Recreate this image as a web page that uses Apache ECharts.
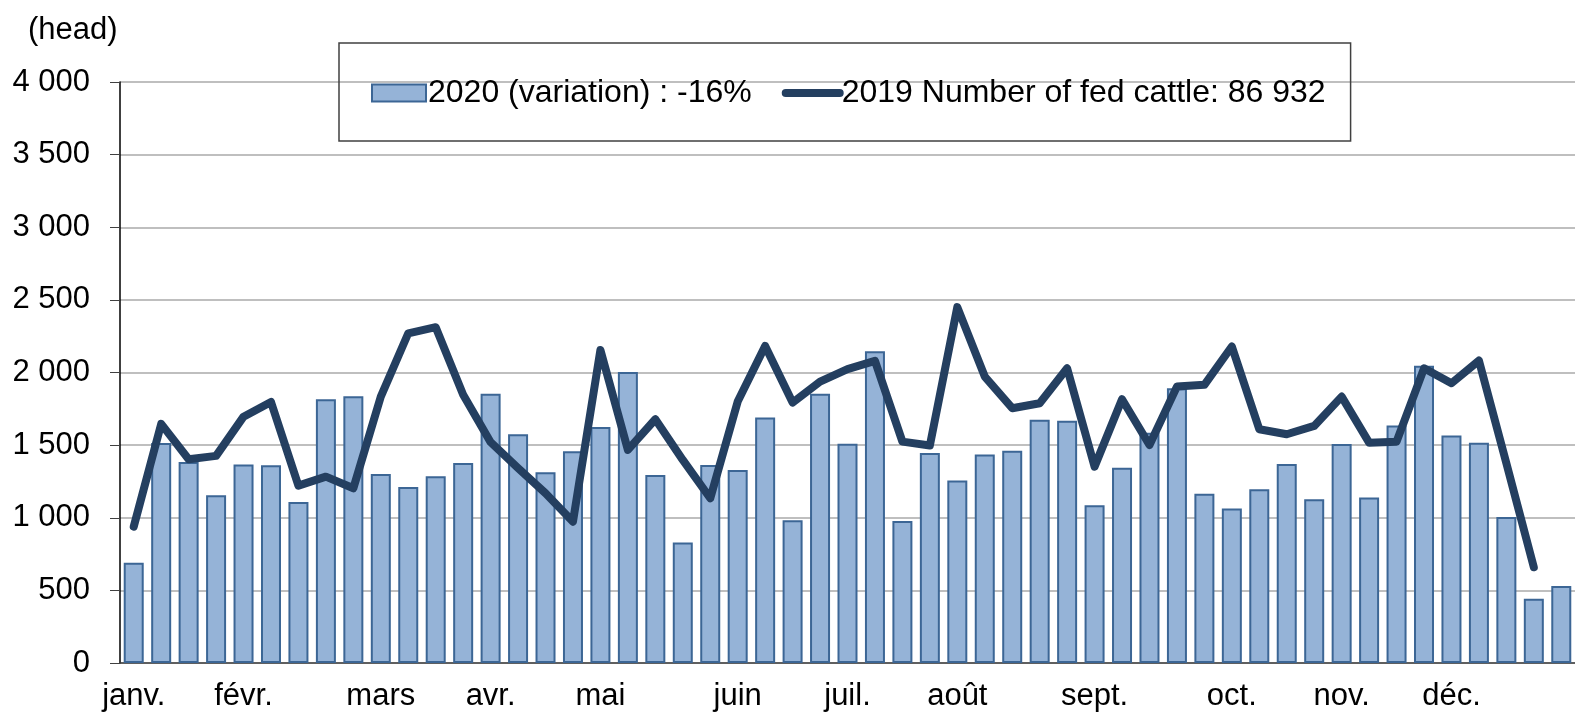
<!DOCTYPE html>
<html>
<head>
<meta charset="utf-8">
<script src="https://cdn.jsdelivr.net/npm/echarts@6/dist/echarts.min.js"></script>
<style>
  html, body { margin: 0; padding: 0; background: #fff; }
  #chart { width: 1575px; height: 717px; }
</style>
</head>
<body>
<div id="chart"></div>
<script>
// month name on the first week of each month, blank for the other weeks
var monthAt = { 0: 'janv.', 4: 'févr.', 9: 'mars', 13: 'avr.', 17: 'mai', 22: 'juin',
                26: 'juil.', 30: 'août', 35: 'sept.', 40: 'oct.', 44: 'nov.', 48: 'déc.' };
var weeks = [];
for (var i = 0; i < 53; i++) weeks.push(monthAt[i] || '');

var cattle2020 = [690, 1515, 1384, 1155, 1366, 1361, 1109, 1816, 1837, 1302,
                  1212, 1286, 1377, 1853, 1575, 1313, 1458, 1625, 2004, 1295,
                  829, 1364, 1329, 1690, 983, 1853, 1510, 2146, 978, 1446,
                  1256, 1435, 1462, 1674, 1667, 1086, 1345, 1585, 1892, 1166,
                  1063, 1196, 1370, 1127, 1508, 1139, 1635, 2046, 1566, 1517,
                  1005, 443, 530];
var cattle2019 = [939, 1646, 1403, 1426, 1696, 1797, 1221, 1283, 1203, 1834,
                  2270, 2312, 1846, 1520, 1341, 1169, 973, 2155, 1467, 1678,
                  1398, 1134, 1800, 2183, 1793, 1937, 2023, 2080, 1524, 1497,
                  2450, 1972, 1754, 1788, 2029, 1352, 1816, 1501, 1903, 1915,
                  2179, 1609, 1575, 1632, 1834, 1517, 1524, 2029, 1926, 2082,
                  1375, 659];

var name2020 = '2020 (variation) : -16%';
var name2019 = '2019 Number of fed cattle: 86 932';
var font = 'Liberation Sans';

var myChart = echarts.init(document.getElementById('chart'));
var option = {
    animation: false,
    textStyle: { fontFamily: font },
    title: {
        text: '(head)',
        left: 23,
        top: 10,
        textStyle: { fontFamily: font, fontSize: 31, fontWeight: 'normal', color: '#000' }
    },
    legend: {
        left: 339,
        top: 43,
        padding: [34, 25, 32, 32],
        borderColor: '#404040',
        borderWidth: 1.5,
        itemWidth: 54,
        itemHeight: 17,
        itemGap: 30,
        textStyle: { fontFamily: font, fontSize: 32, color: '#000', padding: [0, 0, 0, -3] },
        data: [
            { name: name2020, icon: 'rect' },
            {
                name: name2019,
                itemStyle: { opacity: 0 },
                lineStyle: { width: 8, color: '#243F60', cap: 'round' }
            }
        ]
    },
    grid: { left: 120, top: 82, width: 1462, height: 581, containLabel: false },
    xAxis: {
        type: 'category',
        data: weeks,
        boundaryGap: true,
        axisLine: { lineStyle: { color: '#404040', width: 1.5 } },
        axisTick: {
            length: 10,
            interval: function (index) { return index % 4 === 0; },
            lineStyle: { color: '#404040', width: 1.5 }
        },
        axisLabel: { interval: 0, margin: 18, fontSize: 31, color: '#000', fontFamily: font }
    },
    yAxis: {
        type: 'value',
        min: 0,
        max: 4000,
        interval: 500,
        axisLine: { show: true, lineStyle: { color: '#000', width: 1.5 } },
        axisTick: { show: true, length: 10, lineStyle: { color: '#404040' } },
        axisLabel: {
            margin: 30, fontSize: 31, color: '#000', fontFamily: font,
            formatter: function (v) { return String(v).replace(/\B(?=(\d{3})+(?!\d))/g, ' '); }
        },
        splitLine: { lineStyle: { color: '#BFBFBF', width: 2 } }
    },
    series: [
        {
            name: name2020,
            type: 'bar',
            barWidth: 20,
            itemStyle: { color: '#95B3D7', borderColor: '#3C6695', borderWidth: 2 },
            data: cattle2020
        },
        {
            name: name2019,
            type: 'line',
            symbol: 'none',
            z: 3,
            lineStyle: { color: '#243F60', width: 8, cap: 'round', join: 'round' },
            itemStyle: { color: '#243F60' },
            data: cattle2019
        }
    ]
};
myChart.setOption(option);
window.addEventListener('resize', function () {
    myChart.resize();
});
</script>
</body>
</html>
